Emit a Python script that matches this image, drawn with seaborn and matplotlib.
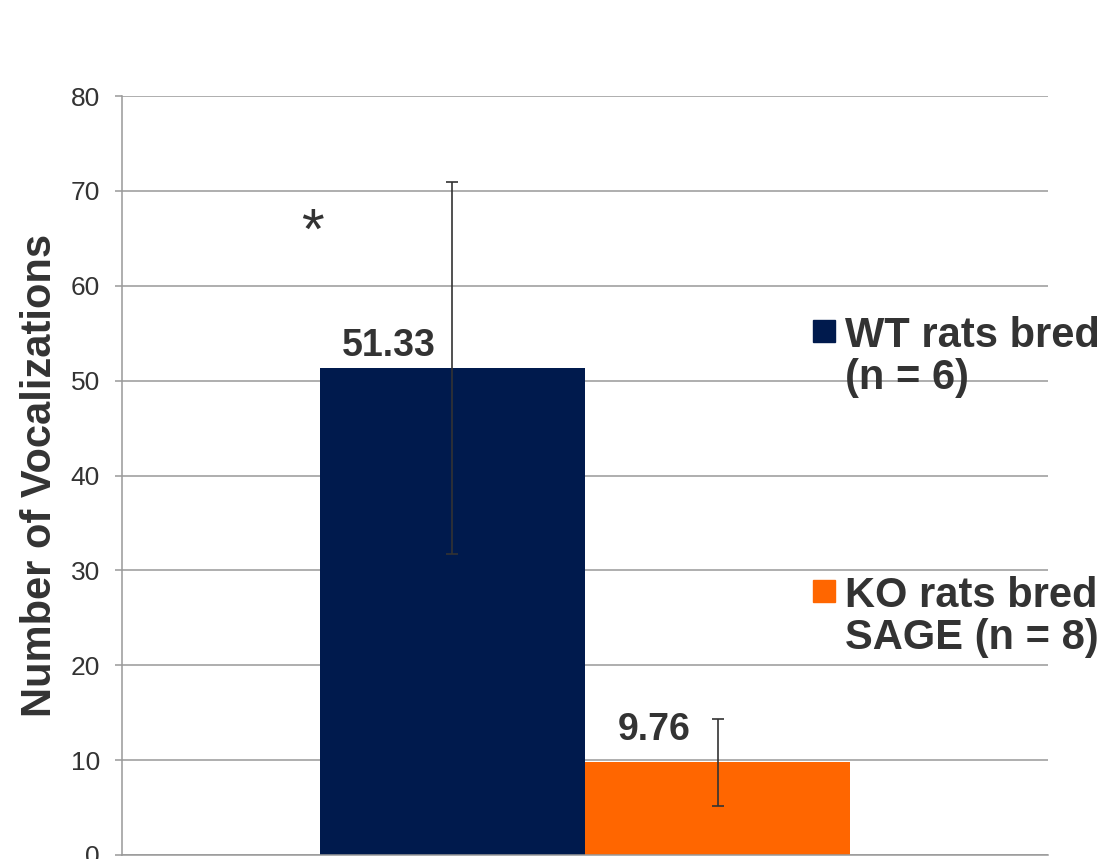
import matplotlib
matplotlib.use("Agg")
import matplotlib.pyplot as plt
import seaborn as sns
from matplotlib.patches import Rectangle

# Data
groups = ["WT rats bred\n(n = 6)", "KO rats bred\nSAGE (n = 8)"]
means = [51.33, 9.76]
errors = [19.65, 4.6]
value_labels = ["51.33", "9.76"]
colors = ["#001a4d", "#ff6600"]
y_ticks = [0, 10, 20, 30, 40, 50, 60, 70, 80]

# Layout helpers (pixels in the 1111x859 canvas)
W, H = 1111, 859
label_offsets = [9, 16]          # points above bar top to label baseline
legend_tops = [316, 576]         # text bbox top (px)
legend_squares = [320, 580]      # square top (px)

sns.set_theme(style="white")
plt.rcParams["font.family"] = ["Liberation Sans", "DejaVu Sans"]

text_color = "#333333"
grid_color = "#999999"

fig = plt.figure(figsize=(W / 100, H / 100), dpi=100)
ax = fig.add_axes([122 / W, 4 / H, 926 / W, 759 / H])

sns.barplot(x=groups, y=means, hue=groups, palette=colors, width=1.0,
            saturation=1, legend=False, ax=ax, zorder=2, linewidth=0)
ax.errorbar(range(len(means)), means, yerr=errors, fmt="none",
            ecolor=text_color, elinewidth=1.2, capsize=4.5, capthick=1.2, zorder=3)

# Value labels, shifted left of the bar centre
for i, (m, lab) in enumerate(zip(means, value_labels)):
    ax.annotate(lab, xy=(i - 0.24, m), xytext=(0, label_offsets[i]),
                textcoords="offset points", ha="center", va="baseline",
                fontsize=27, fontweight="bold", color=text_color)

# Significance star
ax.text(-0.53, 65.5, "*", fontsize=42, ha="center", va="center", color=text_color)

# Axes styling
ax.set_ylim(0, 80)
ax.set_xlim(-1.247, 2.247)
ax.set_yticks(y_ticks)
ax.yaxis.grid(True, color=grid_color, lw=1.1)
ax.set_axisbelow(True)
ax.set_xticks([])
ax.set_xlabel("")
ax.tick_params(axis="y", left=True, length=5, width=1.1, color=grid_color,
               pad=11, labelsize=19, labelcolor=text_color)
for side in ["top", "right"]:
    ax.spines[side].set_visible(False)
for side in ["left", "bottom"]:
    ax.spines[side].set_color(grid_color)
    ax.spines[side].set_linewidth(1.1)
ax.set_ylabel("Number of Vocalizations", fontsize=30, fontweight="bold",
              color=text_color)
ax.yaxis.set_label_coords(-0.067, 0.5)

# Legend drawn by hand so the squares sit on the first line
for i, (g, c) in enumerate(zip(groups, colors)):
    fig.add_artist(Rectangle((813 / W, 1 - (legend_squares[i] + 22) / H),
                             22 / W, 22 / H, transform=fig.transFigure,
                             color=c))
    fig.text(845 / W, 1 - legend_tops[i] / H, g, ha="left", va="top",
             fontsize=30, fontweight="bold", color=text_color, linespacing=1.07)

fig.savefig("out.png", dpi=100)
